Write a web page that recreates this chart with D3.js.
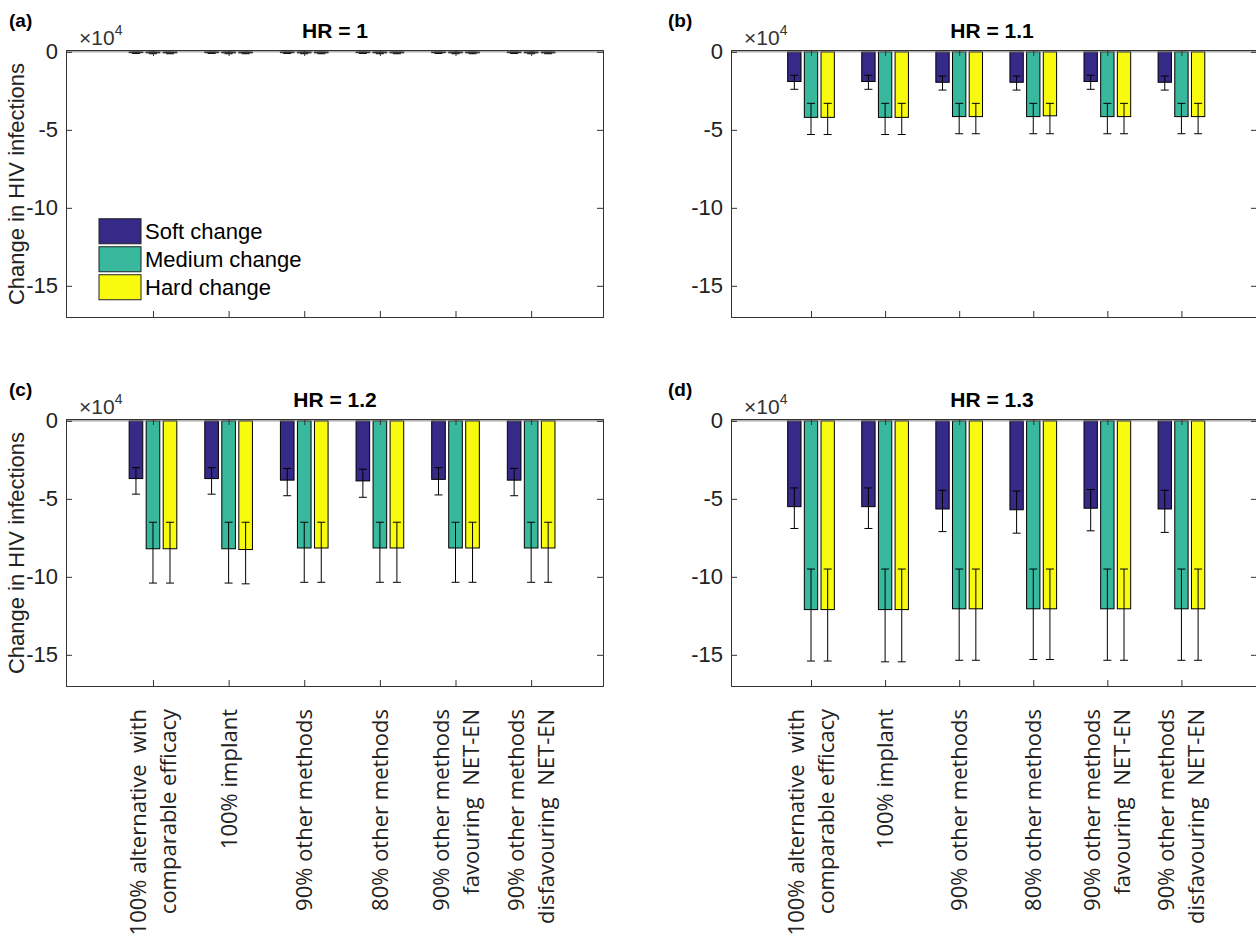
<!DOCTYPE html>
<html><head><meta charset="utf-8">
<script src="https://cdn.jsdelivr.net/npm/d3@7"></script>
<style>body{margin:0;background:#fff}</style></head>
<body><svg id="chart" width="1256" height="942"></svg>
<script>
// data (units of 10^4)
const scenarios = [
  ["100% alternative  with", "comparable efficacy"],
  ["100% implant"],
  ["90% other methods"],
  ["80% other methods"],
  ["90% other methods", "favouring  NET-EN"],
  ["90% other methods", "disfavouring  NET-EN"]
];
const seriesNames = ["Soft change", "Medium change", "Hard change"];
const seriesColors = ["#352a87", "#38b99e", "#f9fb0e"];
const panelTitles = ["HR = 1", "HR = 1.1", "HR = 1.2", "HR = 1.3"];
const panelTags = ["(a)", "(b)", "(c)", "(d)"];
const yTicks = [0, -5, -10, -15];

// [panel][series][scenario] mean, lower, upper
const means = [
  [[-0.05,-0.05,-0.05,-0.05,-0.05,-0.05],[-0.06,-0.06,-0.06,-0.06,-0.06,-0.06],[-0.06,-0.06,-0.06,-0.06,-0.06,-0.06]],
  [[-1.9,-1.9,-1.95,-1.95,-1.9,-1.95],[-4.2,-4.2,-4.15,-4.15,-4.15,-4.15],[-4.2,-4.2,-4.15,-4.1,-4.15,-4.15]],
  [[-3.7,-3.7,-3.8,-3.85,-3.75,-3.8],[-8.2,-8.2,-8.15,-8.15,-8.15,-8.15],[-8.2,-8.25,-8.15,-8.15,-8.15,-8.15]],
  [[-5.5,-5.5,-5.65,-5.7,-5.6,-5.65],[-12.1,-12.1,-12.05,-12.05,-12.05,-12.05],[-12.1,-12.1,-12.05,-12.05,-12.05,-12.05]]
];
const lowers = [
  [[-0.1,-0.1,-0.1,-0.1,-0.1,-0.1],[-0.12,-0.12,-0.12,-0.12,-0.12,-0.12],[-0.12,-0.12,-0.12,-0.12,-0.12,-0.12]],
  [[-2.4,-2.4,-2.45,-2.45,-2.4,-2.45],[-5.3,-5.3,-5.25,-5.25,-5.25,-5.25],[-5.3,-5.3,-5.25,-5.25,-5.25,-5.25]],
  [[-4.7,-4.7,-4.8,-4.9,-4.75,-4.8],[-10.4,-10.4,-10.35,-10.35,-10.35,-10.35],[-10.4,-10.45,-10.35,-10.35,-10.35,-10.35]],
  [[-6.9,-6.9,-7.1,-7.2,-7.05,-7.15],[-15.4,-15.45,-15.35,-15.3,-15.35,-15.35],[-15.4,-15.45,-15.35,-15.3,-15.35,-15.35]]
];
const uppers = [
  [[0.0,0.0,0.0,0.0,0.0,0.0],[0.0,0.0,0.0,0.0,0.0,0.0],[0.0,0.0,0.0,0.0,0.0,0.0]],
  [[-1.5,-1.5,-1.55,-1.55,-1.5,-1.55],[-3.3,-3.3,-3.3,-3.3,-3.3,-3.3],[-3.3,-3.3,-3.3,-3.3,-3.3,-3.3]],
  [[-3.0,-3.0,-3.05,-3.1,-3.0,-3.05],[-6.5,-6.5,-6.5,-6.5,-6.5,-6.5],[-6.5,-6.5,-6.5,-6.5,-6.5,-6.5]],
  [[-4.3,-4.3,-4.45,-4.5,-4.4,-4.45],[-9.5,-9.5,-9.5,-9.5,-9.5,-9.5],[-9.5,-9.5,-9.5,-9.5,-9.5,-9.5]]
];

const svg = d3.select("#chart");
const panels = [
  {left: 66, top: 50, right: 603, d0: -0.15, d1: 6.95, title: 335},
  {left: 731, top: 50, right: 1257, d0: -0.08, d1: 7.02, title: 992},
  {left: 66, top: 419, right: 603, d0: -0.15, d1: 6.95, title: 335},
  {left: 731, top: 419, right: 1257, d0: -0.08, d1: 7.02, title: 992}
];
const offsets = [-0.225, 0, 0.225];
const barW = 0.18;
const font = "Liberation Sans, Arial, sans-serif";

panels.forEach((p, pi) => {
  const g = svg.append("g");
  const x = d3.scaleLinear().domain([p.d0, p.d1]).range([p.left, p.right]);
  const y = d3.scaleLinear().domain([-17, 0.12]).range([p.top + 267, p.top]);
  const unit = x(1) - x(0);

  // bars
  for (let s = 0; s < 3; s++) {
    scenarios.forEach((sc, i) => {
      const cx = x(i + 1 + offsets[s]);
      const v = means[pi][s][i];
      g.append("rect")
        .attr("x", cx - barW * unit / 2).attr("width", barW * unit)
        .attr("y", y(0)).attr("height", Math.max(0.5, y(v) - y(0)))
        .attr("fill", seriesColors[s]).attr("stroke", "#000").attr("stroke-width", 1);
    });
  }
  // error bars
  for (let s = 0; s < 3; s++) {
    scenarios.forEach((sc, i) => {
      const cx = x(i + 1 + offsets[s]);
      const lo = y(lowers[pi][s][i]), hi = y(uppers[pi][s][i]);
      g.append("line").attr("x1", cx).attr("x2", cx).attr("y1", lo).attr("y2", hi)
        .attr("stroke", "#000").attr("stroke-width", 1);
      [lo, hi].forEach(yy => g.append("line").attr("x1", cx - 4).attr("x2", cx + 4)
        .attr("y1", yy).attr("y2", yy).attr("stroke", "#000").attr("stroke-width", 1));
    });
  }

  // zero line
  g.append("line").attr("x1", p.left).attr("x2", p.right).attr("y1", y(0)).attr("y2", y(0))
    .attr("stroke", "#888").attr("stroke-width", 1);

  // axes
  const yAxis = g.append("g").attr("transform", `translate(${p.left},0)`)
    .call(d3.axisLeft(y).tickValues(yTicks).tickSize(-6).tickPadding(8).tickFormat(d => String(d)));
  const yAxisR = g.append("g").attr("transform", `translate(${p.right},0)`)
    .call(d3.axisRight(y).tickValues(yTicks).tickSize(-6).tickFormat(""));
  const xAxis = g.append("g").attr("transform", `translate(0,${p.top + 267})`)
    .call(d3.axisBottom(x).tickValues(d3.range(1, 7)).tickSize(-6).tickFormat(""));
  const xAxisT = g.append("g").attr("transform", `translate(0,${p.top})`)
    .call(d3.axisTop(x).tickValues(d3.range(1, 7)).tickSize(-6).tickFormat(""));
  [yAxis, yAxisR, xAxis, xAxisT].forEach(a => {
    a.selectAll("path,line").attr("stroke", "#333");
    a.selectAll("text").attr("fill", "#222")
      .attr("font-size", 22).attr("font-family", font);
  });

  // multiplier
  const m = g.append("text").attr("x", p.left + 13).attr("y", p.top - 5)
    .attr("font-family", font).attr("font-size", 21).attr("fill", "#333");
  m.append("tspan").text("×10");
  m.append("tspan").attr("dy", -10).attr("font-size", 14).text("4");

  // title & tag
  g.append("text").attr("x", p.title).attr("y", p.top - 12)
    .attr("text-anchor", "middle").attr("font-family", font)
    .attr("font-weight", "bold").attr("font-size", 21).text(panelTitles[pi]);
  g.append("text").attr("x", pi % 2 ? 668 : 9).attr("y", p.top - 23)
    .attr("font-family", font).attr("font-weight", "bold").attr("font-size", 19)
    .text(panelTags[pi]);

  // y label on left panels
  if (pi % 2 === 0) {
    g.append("text").attr("transform", `translate(24,${p.top + 134}) rotate(-90)`)
      .attr("text-anchor", "middle").attr("font-family", font).attr("font-size", 22)
      .attr("fill", "#222").text("Change in HIV infections");
  }

  // category labels on bottom panels
  if (pi >= 2) {
    scenarios.forEach((lines, i) => {
      const t = g.append("text").attr("transform", `translate(${x(i + 1)},${p.top + 290}) rotate(-90)`)
        .attr("text-anchor", "end").attr("font-family", "Open Sans, Noto Sans").attr("font-size", 22)
        .attr("fill", "#222").style("white-space", "pre");
      const n = lines.length;
      lines.forEach((ln, k) => t.append("tspan").attr("x", 0)
        .attr("y", (k - (n - 1) / 2) * 30 + 8).text(ln));
    });
  }

  // legend in panel a
  if (pi === 0) {
    seriesNames.forEach((nm, s) => {
      const ly = y(-10.7) + s * 28;
      g.append("rect").attr("x", p.left + 33).attr("y", ly).attr("width", 42).attr("height", 25)
        .attr("fill", seriesColors[s]).attr("stroke", "#222");
      g.append("text").attr("x", p.left + 79).attr("y", ly + 20)
        .attr("font-family", font).attr("font-size", 22).text(nm);
    });
  }
});
</script></body></html>
